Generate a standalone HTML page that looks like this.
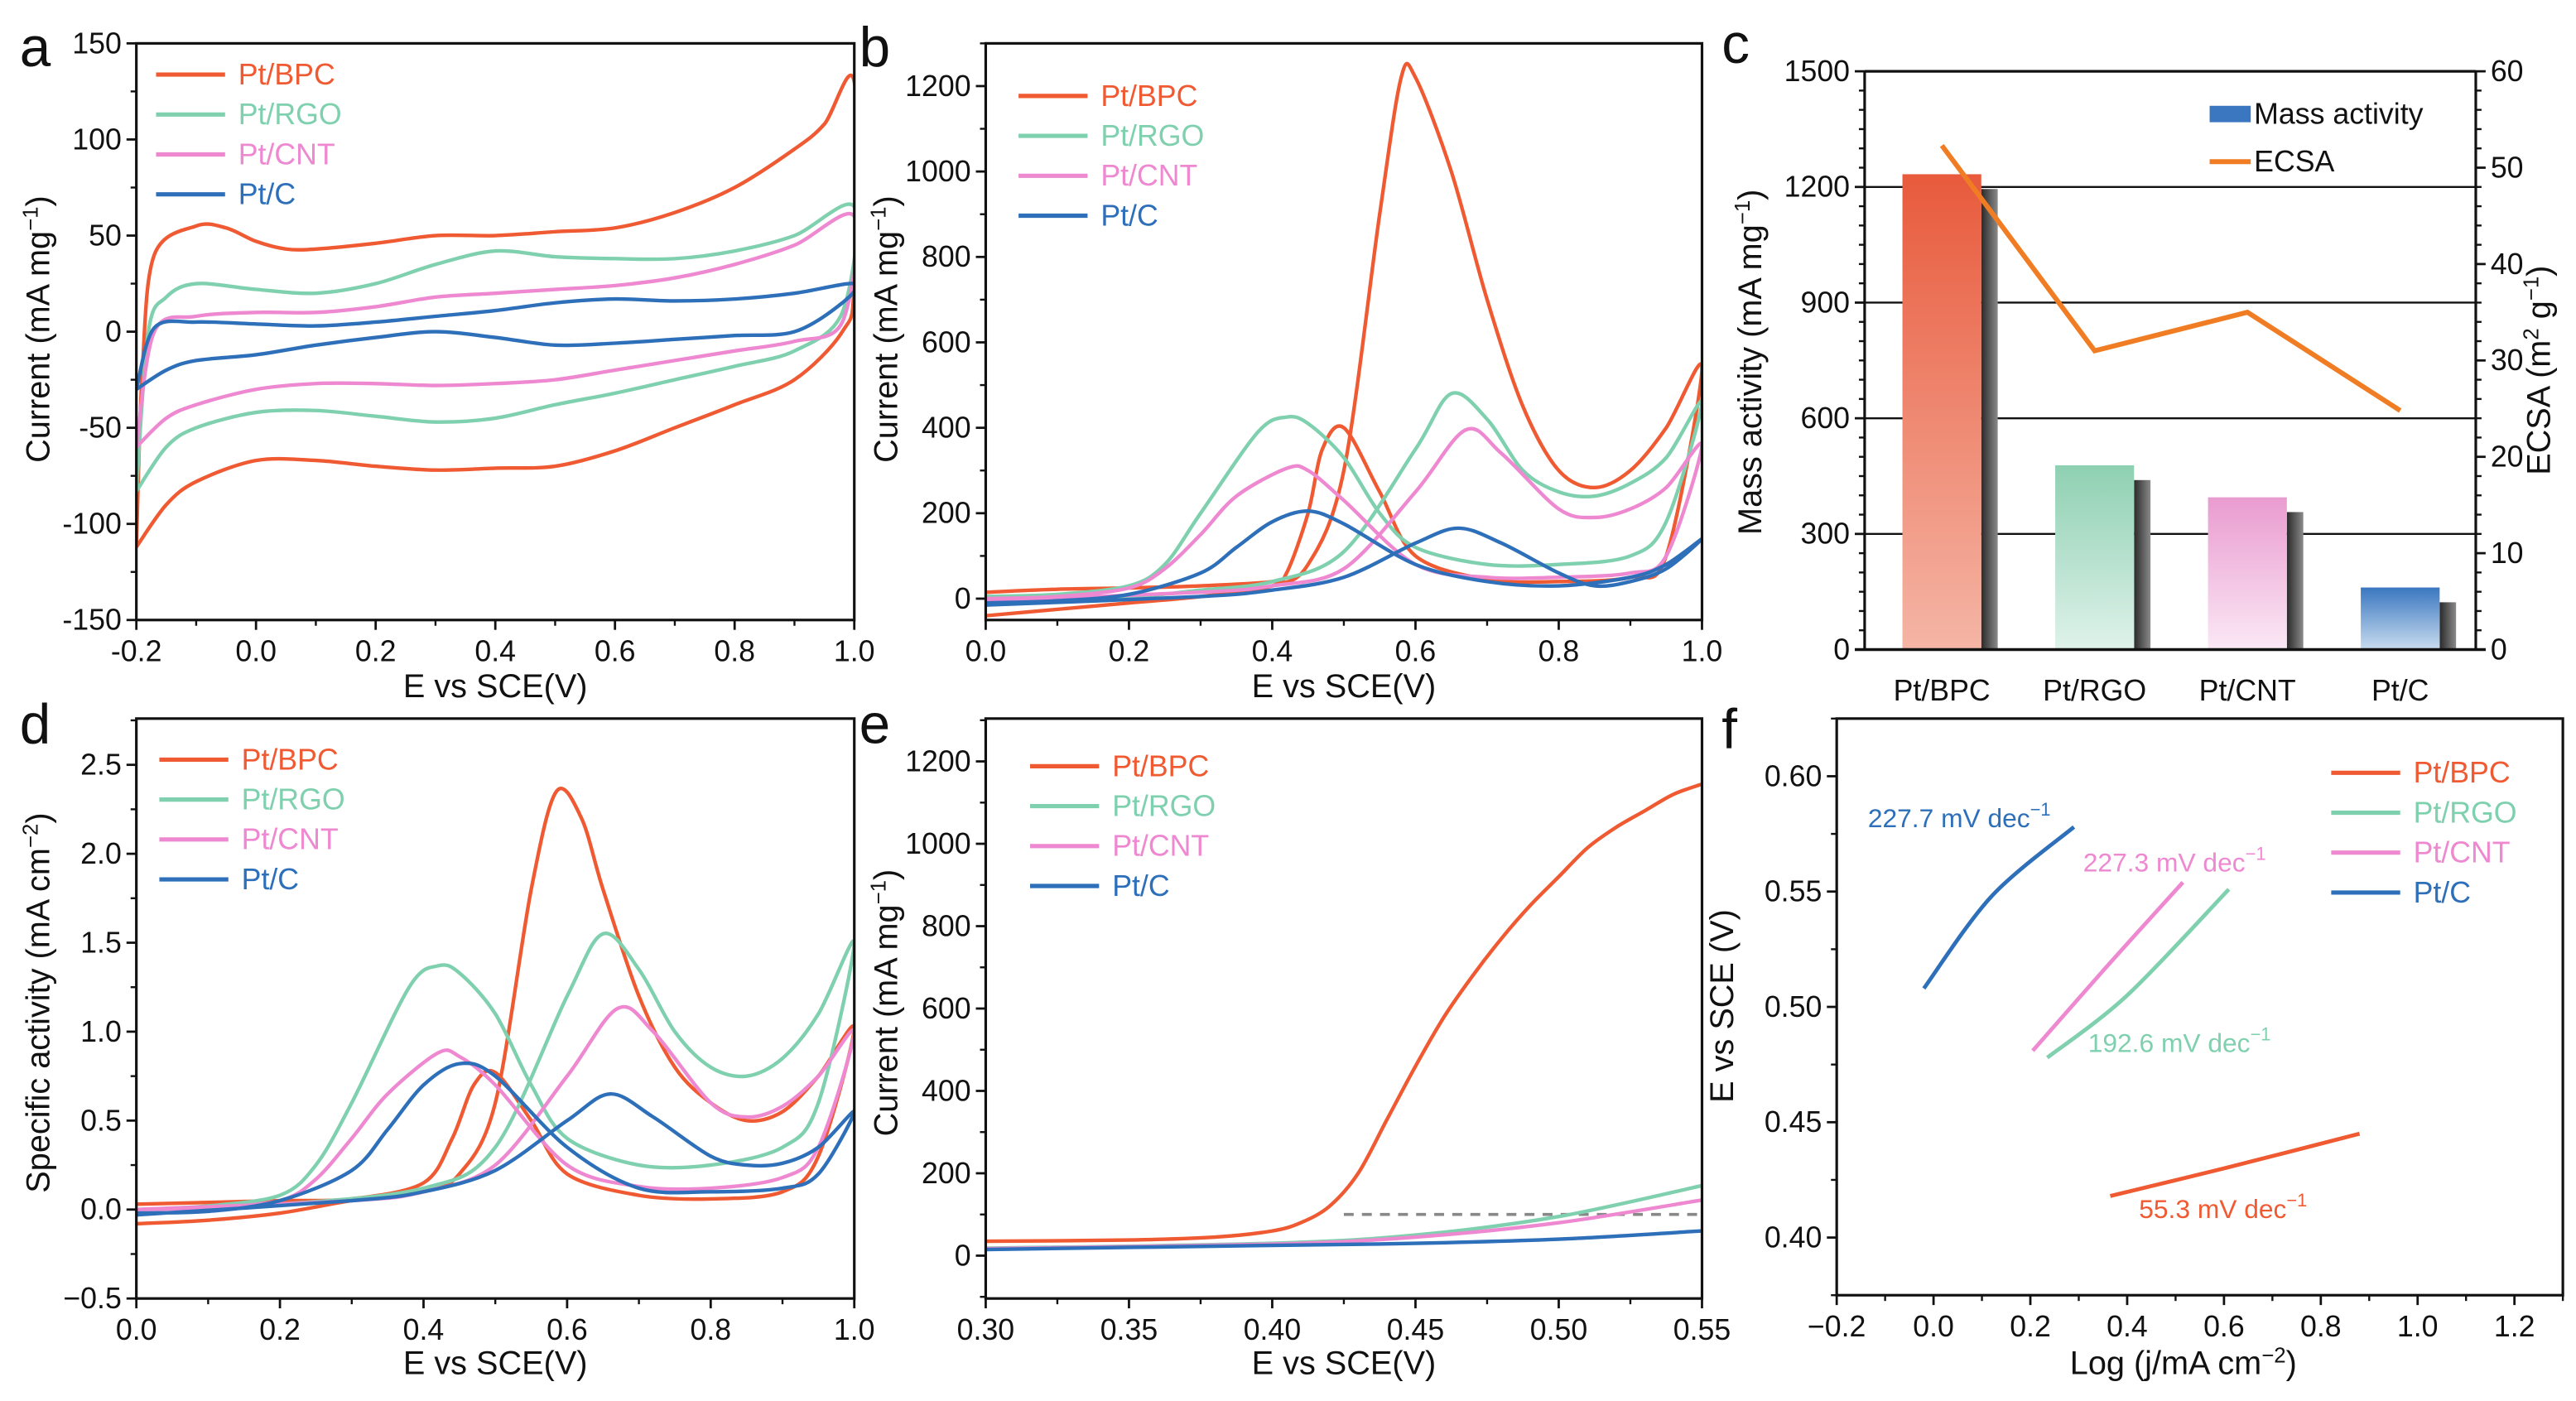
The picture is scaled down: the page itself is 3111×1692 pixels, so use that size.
<!DOCTYPE html>
<html><head><meta charset="utf-8"><style>
html,body{margin:0;padding:0;background:#fff}
svg{display:block;font-family:"Liberation Sans",Arial,sans-serif}
</style></head><body>
<svg id="fig" width="3111" height="1692" viewBox="0 0 1568 852" xmlns="http://www.w3.org/2000/svg">
<defs>
<linearGradient id="gBPC" x1="0" y1="0" x2="0" y2="1"><stop offset="0" stop-color="#e85a3c"/><stop offset="1" stop-color="#f5b5a5"/></linearGradient>
<linearGradient id="gRGO" x1="0" y1="0" x2="0" y2="1"><stop offset="0" stop-color="#8ed0b2"/><stop offset="1" stop-color="#dff2ea"/></linearGradient>
<linearGradient id="gCNT" x1="0" y1="0" x2="0" y2="1"><stop offset="0" stop-color="#e99bd0"/><stop offset="1" stop-color="#fbe8f5"/></linearGradient>
<linearGradient id="gC" x1="0" y1="0" x2="0" y2="1"><stop offset="0" stop-color="#3a77c0"/><stop offset="1" stop-color="#c9dcef"/></linearGradient>
<linearGradient id="gSh" x1="0" y1="0" x2="1" y2="0"><stop offset="0" stop-color="#2a2a2a"/><stop offset="1" stop-color="#8a8a8a"/></linearGradient>
</defs>
</svg>
<script>
// ---------- data ----------
const seriesNames = ["Pt/BPC","Pt/RGO","Pt/CNT","Pt/C"];
const colors = ["#f05a32","#7fd0ae","#ee88d0","#2e6fba"];
const aBPC = [[-0.2,-112],[-0.19,-20],[-0.17,40],[-0.1,55],[-0.05,54],[0,47],[0.05,43],[0.1,43],[0.2,46],[0.3,50],[0.4,50],[0.5,52],[0.6,54],[0.7,62],[0.8,75],[0.9,95],[0.95,108],[1.0,130],[1.0,25],[0.98,0],[0.9,-25],[0.8,-38],[0.7,-50],[0.6,-62],[0.5,-70],[0.4,-71],[0.3,-72],[0.2,-70],[0.1,-67],[0,-67],[-0.1,-78],[-0.15,-90],[-0.2,-112]];
const aRGO = [[-0.2,-83],[-0.18,0],[-0.15,18],[-0.1,25],[0,22],[0.1,20],[0.2,25],[0.3,35],[0.4,42],[0.5,39],[0.6,38],[0.7,38],[0.8,42],[0.9,50],[1.0,65],[0.98,10],[0.9,-10],[0.8,-18],[0.7,-25],[0.6,-32],[0.5,-38],[0.4,-45],[0.3,-47],[0.2,-44],[0.1,-41],[0,-42],[-0.1,-50],[-0.15,-60],[-0.2,-83]];
const aCNT = [[-0.2,-60],[-0.17,0],[-0.1,8],[0,10],[0.1,10],[0.2,13],[0.3,18],[0.4,20],[0.5,22],[0.6,24],[0.7,28],[0.8,35],[0.9,45],[1.0,60],[0.98,5],[0.9,-5],[0.8,-10],[0.7,-15],[0.6,-20],[0.5,-25],[0.4,-27],[0.3,-28],[0.2,-27],[0.1,-27],[0,-30],[-0.1,-38],[-0.15,-45],[-0.2,-60]];
const aC = [[-0.2,-30],[-0.17,2],[-0.1,5],[0,4],[0.1,3],[0.2,5],[0.3,8],[0.4,11],[0.5,15],[0.6,17],[0.7,16],[0.8,17],[0.9,20],[1.0,25],[0.98,15],[0.9,0],[0.8,-2],[0.7,-4],[0.6,-6],[0.5,-7],[0.4,-3],[0.3,0],[0.2,-3],[0.1,-7],[0,-12],[-0.1,-15],[-0.15,-20],[-0.2,-30]];
const bBPC = [[0,-40],[0.1,-25],[0.2,-10],[0.3,5],[0.4,30],[0.45,80],[0.5,300],[0.55,900],[0.58,1220],[0.6,1220],[0.65,1000],[0.7,700],[0.75,450],[0.8,300],[0.85,260],[0.9,300],[0.95,400],[1.0,540],[0.95,100],[0.9,50],[0.8,40],[0.7,45],[0.6,100],[0.55,250],[0.5,400],[0.47,350],[0.45,200],[0.42,60],[0.4,40],[0.3,30],[0.2,25],[0.1,22],[0,15]];
const bRGO = [[0,0],[0.2,5],[0.3,20],[0.4,40],[0.5,110],[0.6,350],[0.65,480],[0.7,420],[0.75,300],[0.8,250],[0.85,240],[0.9,270],[0.95,330],[1.0,460],[0.95,180],[0.9,100],[0.8,80],[0.7,80],[0.6,120],[0.55,200],[0.5,330],[0.45,410],[0.42,425],[0.38,390],[0.3,200],[0.25,80],[0.2,30],[0.1,10],[0,5]];
const bCNT = [[0,-5],[0.3,15],[0.4,30],[0.5,70],[0.6,250],[0.67,395],[0.72,340],[0.8,210],[0.85,190],[0.9,210],[0.95,260],[1.0,360],[0.95,100],[0.9,60],[0.8,50],[0.7,50],[0.6,80],[0.5,230],[0.45,300],[0.42,305],[0.35,240],[0.3,150],[0.25,70],[0.2,25],[0.1,5],[0,0]];
const bC = [[0,-15],[0.3,5],[0.4,20],[0.5,50],[0.6,130],[0.66,165],[0.72,130],[0.8,60],[0.85,30],[0.9,40],[0.95,70],[1.0,140],[0.95,80],[0.9,50],[0.8,30],[0.7,40],[0.6,80],[0.5,175],[0.45,205],[0.4,180],[0.35,120],[0.3,60],[0.2,10],[0.1,-5],[0,-10]];
const cCategories = ["Pt/BPC","Pt/RGO","Pt/CNT","Pt/C"];
const cMass = [1233,478,395,161];
const cECSA = [52.3,31,35,24.8];
const dBPC = [[0,-0.08],[0.1,-0.06],[0.2,-0.02],[0.3,0.05],[0.4,0.1],[0.45,0.2],[0.5,0.6],[0.55,1.8],[0.585,2.35],[0.62,2.2],[0.65,1.8],[0.7,1.2],[0.75,0.8],[0.8,0.6],[0.85,0.5],[0.9,0.55],[0.95,0.75],[1.0,1.02],[0.95,0.3],[0.9,0.1],[0.8,0.06],[0.7,0.08],[0.6,0.2],[0.55,0.5],[0.5,0.77],[0.47,0.7],[0.44,0.4],[0.4,0.15],[0.3,0.06],[0.2,0.05],[0.1,0.04],[0,0.03]];
const dRGO = [[0,0],[0.2,0.03],[0.4,0.12],[0.5,0.35],[0.6,1.2],[0.65,1.55],[0.7,1.35],[0.75,1.0],[0.8,0.8],[0.85,0.75],[0.9,0.85],[0.95,1.1],[1.0,1.5],[0.95,0.6],[0.9,0.35],[0.8,0.25],[0.7,0.25],[0.6,0.4],[0.55,0.7],[0.5,1.1],[0.45,1.33],[0.42,1.37],[0.38,1.25],[0.3,0.6],[0.25,0.25],[0.2,0.08],[0.1,0.02],[0,0]];
const dCNT = [[0,0],[0.3,0.05],[0.4,0.1],[0.5,0.25],[0.6,0.75],[0.67,1.13],[0.72,1.0],[0.8,0.6],[0.85,0.52],[0.9,0.58],[0.95,0.75],[1.0,1.0],[0.95,0.35],[0.9,0.18],[0.8,0.12],[0.7,0.13],[0.6,0.25],[0.5,0.7],[0.45,0.86],[0.42,0.88],[0.35,0.65],[0.3,0.4],[0.25,0.17],[0.2,0.05],[0.1,0.01],[0,0]];
const dC = [[0,-0.03],[0.3,0.05],[0.4,0.1],[0.5,0.22],[0.6,0.5],[0.66,0.65],[0.72,0.52],[0.8,0.3],[0.85,0.25],[0.9,0.26],[0.95,0.35],[1.0,0.55],[0.95,0.2],[0.9,0.12],[0.8,0.1],[0.7,0.12],[0.6,0.35],[0.5,0.75],[0.45,0.82],[0.4,0.7],[0.35,0.45],[0.3,0.22],[0.2,0.05],[0.1,-0.01],[0,-0.02]];
const eBPC = [[0.3,35],[0.35,38],[0.38,45],[0.4,60],[0.41,80],[0.42,120],[0.43,200],[0.44,330],[0.45,460],[0.46,580],[0.47,680],[0.48,770],[0.49,850],[0.5,920],[0.51,990],[0.52,1040],[0.53,1080],[0.54,1120],[0.55,1145]];
const eRGO = [[0.3,18],[0.4,30],[0.45,50],[0.5,95],[0.55,170]];
const eCNT = [[0.3,17],[0.4,28],[0.45,45],[0.5,80],[0.55,135]];
const eC = [[0.3,15],[0.4,25],[0.45,30],[0.5,40],[0.55,60]];
const eDashValue = 100;
const fBPC = [[0.365,0.418],[0.6,0.43],[0.88,0.445]];
const fRGO = [[0.235,0.478],[0.4,0.505],[0.61,0.551]];
const fCNT = [[0.205,0.481],[0.36,0.518],[0.515,0.554]];
const fC = [[-0.02,0.508],[0.12,0.548],[0.29,0.578]];
const fSlopes = ["55.3","192.6","227.3","227.7"];

// ---------- helpers ----------
const NS="http://www.w3.org/2000/svg";
const svg=document.getElementById('fig');
const defs=svg.querySelector('defs');
const TF=18, AF=20;
function mk(tag,attrs,parent){const e=document.createElementNS(NS,tag);for(const k in attrs)e.setAttribute(k,attrs[k]);(parent||svg).appendChild(e);return e;}
function txt(s,x,y,size,anchor,fill,parent){const t=mk('text',{x:x,y:y,'font-size':size,'text-anchor':anchor||'middle',fill:fill||'#111'},parent);t.textContent=s;return t;}
function scale(d0,d1,r0,r1){return v=>r0+(v-d0)/(d1-d0)*(r1-r0);}
function smooth(pts){let d='M'+pts[0][0].toFixed(2)+','+pts[0][1].toFixed(2);
 for(let i=0;i<pts.length-1;i++){const p0=pts[i-1]||pts[i],p1=pts[i],p2=pts[i+1],p3=pts[i+2]||p2;
  const t=0.16;const c1=[p1[0]+(p2[0]-p0[0])*t,p1[1]+(p2[1]-p0[1])*t],c2=[p2[0]-(p3[0]-p1[0])*t,p2[1]-(p3[1]-p1[1])*t];
  d+=' C'+c1[0].toFixed(2)+','+c1[1].toFixed(2)+' '+c2[0].toFixed(2)+','+c2[1].toFixed(2)+' '+p2[0].toFixed(2)+','+p2[1].toFixed(2);}
 return d;}
let clipN=0;
function clip(x0,y0,x1,y1){const id='clip'+(clipN++);const c=mk('clipPath',{id:id},defs);mk('rect',{x:x0,y:y0,width:x1-x0,height:y1-y0},c);return 'url(#'+id+')';}
function frame(g,x0,y0,x1,y1){mk('rect',{x:x0,y:y0,width:x1-x0,height:y1-y0,fill:'none',stroke:'#111','stroke-width':1.6},g);}
function xTicks(g,xs,y1,vals,labels,minor){vals.forEach((v,i)=>{const x=xs(v);mk('line',{x1:x,y1:y1,x2:x,y2:y1+6,stroke:'#111','stroke-width':1.4},g);const t=txt(labels[i],x,y1+25,TF,'middle','#111',g);});
 (minor||[]).forEach(v=>{const x=xs(v);mk('line',{x1:x,y1:y1,x2:x,y2:y1+3.5,stroke:'#111','stroke-width':1.2},g);});}
function yTicks(g,ys,x0,vals,labels,minor,right){const s=right?1:-1;vals.forEach((v,i)=>{const y=ys(v);mk('line',{x1:x0,y1:y,x2:x0+s*6,y2:y,stroke:'#111','stroke-width':1.4},g);const t=txt(labels[i],x0+s*9,y+6,TF,right?'start':'end','#111',g);});
 (minor||[]).forEach(v=>{const y=ys(v);mk('line',{x1:x0,y1:y,x2:x0+s*3.5,y2:y,stroke:'#111','stroke-width':1.2},g);});}
function ytitle(g,s,x,y){const t=mk('text',{x:0,y:0,'font-size':AF,'text-anchor':'middle',fill:'#111',transform:'translate('+x+','+y+') rotate(-90)'},g);t.innerHTML=s;return t;}
function xtitle(g,s,x,y){const t=mk('text',{x:x,y:y,'font-size':AF,'text-anchor':'middle',fill:'#111'},g);t.innerHTML=s;return t;}
function letter(s,x,y){const t=txt(s,x,y,34,'start','#111');}
function legend(g,x,y0,dy){seriesNames.forEach((n,i)=>{const y=y0+i*dy;mk('line',{x1:x,y1:y,x2:x+42,y2:y,stroke:colors[i],'stroke-width':2.6},g);const t=txt(n,x+50,y+6,TF,'start',colors[i],g);});}
function range(a,b,s){const r=[];for(let v=a;v<=b+1e-9;v+=s)r.push(+v.toFixed(4));return r;}
function drawSeries(g,arrs,xs,ys,w,cp){const gg=mk('g',{'clip-path':cp},g);arrs.forEach((a,i)=>{const p=mk('path',{d:smooth(a.map(q=>[xs(q[0]),ys(q[1])])),fill:'none',stroke:colors[i],'stroke-width':w||2.2,'stroke-linejoin':'round'},gg);});}
const sup=s=>'<tspan dy="-7" font-size="13">'+s+'</tspan><tspan dy="7">';

// ---------- panel a ----------
(function(){const g=mk('g',{});
 const X0=83,X1=520,Y0=26,Y1=377;const xs=scale(-0.2,1.0,X0,X1),ys=scale(-150,150,Y1,Y0);
 drawSeries(g,[aBPC,aRGO,aCNT,aC],xs,ys,2.2,clip(X0,Y0,X1,Y1));frame(g,X0,Y0,X1,Y1);
 const xv=range(-0.2,1.0,0.2);xTicks(g,xs,Y1,xv,xv.map(v=>(v<0?'-':'')+Math.abs(v).toFixed(1)),range(-0.1,0.9,0.2));
 const yv=range(-150,150,50);yTicks(g,ys,X0,yv,yv.map(String),range(-125,125,50));
 xtitle(g,'E vs SCE(V)',(X0+X1)/2,424);ytitle(g,'Current (mA mg'+sup('−1')+')</tspan>',30,200);
 legend(g,95,45,24.3);letter('a',12,40);})();
// ---------- panel b ----------
(function(){const g=mk('g',{});
 const X0=600,X1=1036,Y0=26,Y1=377;const xs=scale(0,1.0,X0,X1),ys=scale(-50,1300,Y1,Y0);
 drawSeries(g,[bBPC,bRGO,bCNT,bC],xs,ys,2.2,clip(X0,Y0,X1,Y1));frame(g,X0,Y0,X1,Y1);
 const xv=range(0,1.0,0.2);xTicks(g,xs,Y1,xv,xv.map(v=>v.toFixed(1)),range(0.1,0.9,0.2));
 const yv=range(0,1200,200);yTicks(g,ys,X0,yv,yv.map(String),range(100,1300,200));
 xtitle(g,'E vs SCE(V)',(X0+X1)/2,424);ytitle(g,'Current (mA mg'+sup('−1')+')</tspan>',546,200);
 legend(g,620,58,24.3);letter('b',523,40);})();
// ---------- panel c ----------
(function(){const g=mk('g',{});
 const X0=1135,X1=1507,Y0=43,Y1=395;const ys=scale(0,1500,Y1,Y0),ys2=scale(0,60,Y1,Y0);
 const xs=i=>X0+47+i*93;const grads=['gBPC','gRGO','gCNT','gC'];
 [300,600,900,1200].forEach(v=>mk('line',{x1:X0,y1:ys(v),x2:X1,y2:ys(v),stroke:'#111','stroke-width':1.2},g));
 cMass.forEach((v,i)=>{const cx=xs(i),w=48;
  const sh=mk('rect',{x:cx+w/2,y:ys(v)+9,width:10,height:Y1-ys(v)-9,fill:'url(#gSh)'},g);
  const b=mk('rect',{x:cx-w/2,y:ys(v),width:w,height:Y1-ys(v),fill:'url(#'+grads[i]+')'},g);
  const t=txt(cCategories[i],cx,426,TF,'middle','#111',g);});
 const l=mk('polyline',{points:cECSA.map((v,i)=>xs(i)+','+ys2(v)).join(' '),fill:'none',stroke:'#f07d24','stroke-width':3},g);
 mk('line',{x1:X0,y1:Y0,x2:X1,y2:Y0,stroke:'#111','stroke-width':1.6},g);
 mk('line',{x1:X0,y1:Y0,x2:X0,y2:Y1,stroke:'#111','stroke-width':1.6},g);mk('line',{x1:X1,y1:Y0,x2:X1,y2:Y1,stroke:'#111','stroke-width':1.6},g);
 mk('line',{x1:X0-6,y1:Y1,x2:X1+6,y2:Y1,stroke:'#111','stroke-width':1.8},g);
 const yv=range(0,1500,300);yTicks(g,ys,X0,yv,yv.map(String),range(50,1450,50).filter(v=>v%300));
 const yv2=range(0,60,10);yTicks(g,ys2,X1,yv2,yv2.map(String),range(2,58,2).filter(v=>v%10),true);
 ytitle(g,'Mass activity (mA mg'+sup('−1')+')</tspan>',1072,220);
 ytitle(g,'ECSA (m'+sup('2')+' g</tspan>'+sup('−1')+')</tspan>',1552,225);
 mk('rect',{x:1345,y:64,width:25,height:10,fill:'#3a77c0'},g);
 const lm=txt('Mass activity',1372,75,TF,'start','#111',g);
 mk('line',{x1:1345,y1:98,x2:1370,y2:98,stroke:'#f07d24','stroke-width':3},g);
 const le=txt('ECSA',1372,104,TF,'start','#111',g);
 letter('c',1048,38);})();
// ---------- panel d ----------
(function(){const g=mk('g',{});
 const X0=83,X1=520,Y0=437,Y1=790;const xs=scale(0,1.0,X0,X1),ys=scale(-0.5,2.76,Y1,Y0);
 drawSeries(g,[dBPC,dRGO,dCNT,dC],xs,ys,2.2,clip(X0,Y0,X1,Y1));frame(g,X0,Y0,X1,Y1);
 const xv=range(0,1.0,0.2);xTicks(g,xs,Y1,xv,xv.map(v=>v.toFixed(1)),range(0.1,0.9,0.2));
 const yv=range(-0.5,2.5,0.5);yTicks(g,ys,X0,yv,yv.map(v=>(v<0?'−':'')+Math.abs(v).toFixed(1)),range(-0.25,2.75,0.5));
 xtitle(g,'E vs SCE(V)',(X0+X1)/2,836);ytitle(g,'Specific activity (mA cm'+sup('−2')+')</tspan>',30,610);
 legend(g,97,462,24.3);letter('d',12,452);})();
// ---------- panel e ----------
(function(){const g=mk('g',{});
 const X0=600,X1=1036,Y0=437,Y1=790;const xs=scale(0.3,0.55,X0,X1),ys=scale(-104,1304,Y1,Y0);
 const dl=mk('line',{x1:xs(0.425),y1:ys(eDashValue),x2:xs(0.55),y2:ys(eDashValue),stroke:'#888','stroke-width':1.8,'stroke-dasharray':'6,5'},g);
 drawSeries(g,[eBPC,eRGO,eCNT,eC],xs,ys,2.2,clip(X0,Y0,X1,Y1));frame(g,X0,Y0,X1,Y1);
 const xv=range(0.3,0.55,0.05);xTicks(g,xs,Y1,xv,xv.map(v=>v.toFixed(2)),range(0.325,0.525,0.05));
 const yv=range(0,1200,200);yTicks(g,ys,X0,yv,yv.map(String),range(100,1300,200).concat([-100]));
 xtitle(g,'E vs SCE(V)',(X0+X1)/2,836);ytitle(g,'Current (mA mg'+sup('−1')+')</tspan>',546,610);
 legend(g,627,466,24.3);letter('e',523,452);})();
// ---------- panel f ----------
(function(){const g=mk('g',{});
 const X0=1118,X1=1560,Y0=437,Y1=788;const xs=scale(-0.2,1.3,X0,X1),ys=scale(0.375,0.625,Y1,Y0);
 drawSeries(g,[fBPC,fRGO,fCNT,fC],xs,ys,2.4,clip(X0,Y0,X1,Y1));frame(g,X0,Y0,X1,Y1);
 const xv=range(-0.2,1.2,0.2);xTicks(g,xs,Y1,xv,xv.map(v=>(v<0?'−':'')+Math.abs(v).toFixed(1)),range(-0.1,1.3,0.2));
 const yv=range(0.4,0.6,0.05);yTicks(g,ys,X0,yv,yv.map(v=>v.toFixed(2)),[0.375,0.425,0.475,0.525,0.575,0.625]);
 xtitle(g,'Log (j/mA cm'+sup('−2')+')</tspan>',(X0+X1)/2-10,836);
 ytitle(g,'E vs SCE (V)',1055,612);
 const lab=[[1302,741,0],[1271,640,1],[1268,530,2],[1137,503,3]];
 lab.forEach(L=>{const t=mk('text',{x:L[0],y:L[1],'font-size':16,fill:colors[L[2]]},g);t.innerHTML=fSlopes[L[2]]+' mV dec<tspan dy="-7" font-size="11">−1</tspan>';});
 legend(g,1419,470,24.3);letter('f',1048,455);})();
</script>
</body></html>
